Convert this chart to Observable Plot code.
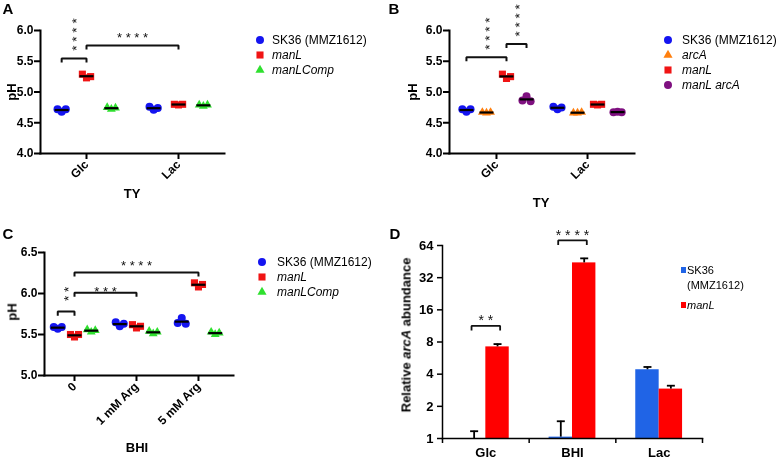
<!DOCTYPE html>
<html><head><meta charset="utf-8">
<script src="https://cdn.jsdelivr.net/npm/d3@7"></script>
<script src="https://cdn.jsdelivr.net/npm/@observablehq/plot@0.6"></script>
<style>
body{margin:0;background:#fff;}
#fig{position:relative;width:777px;height:462px;overflow:hidden;background:#fff;font-family:"Liberation Sans",Arial,sans-serif;color:#000;}
.layer{will-change:transform;}
</style></head><body><div id="fig"></div>
<script>
// ---------------- DATA ----------------
// Panel A (TY medium)
const groupsA = ["Glc", "Lac"];
const seriesA = ["SK36 (MMZ1612)", "manL", "manLComp"];
// replicates per group: [left, middle, right]
const a_SK36     = [[4.72, 4.68, 4.72], [4.76, 4.71, 4.74]];
const a_manL     = [[5.29, 5.23, 5.25], [4.80, 4.79, 4.80]];
const a_manLComp = [[4.75, 4.72, 4.74], [4.79, 4.77, 4.79]];
const yTicksA = [4.0, 4.5, 5.0, 5.5, 6.0];

// Panel B (TY medium)
const groupsB = ["Glc", "Lac"];
const seriesB = ["SK36 (MMZ1612)", "arcA", "manL", "manL arcA"];
const b_SK36     = [[4.72, 4.68, 4.72], [4.76, 4.72, 4.75]];
const b_arcA     = [[4.67, 4.66, 4.67], [4.66, 4.66, 4.67]];
const b_manL     = [[5.29, 5.22, 5.25], [4.80, 4.79, 4.80]];
const b_manLarcA = [[4.86, 4.93, 4.85], [4.67, 4.68, 4.67]];
const yTicksB = [4.0, 4.5, 5.0, 5.5, 6.0];

// Panel C (BHI medium)
const groupsC = ["0", "1 mM Arg", "5 mM Arg"];
const seriesC = ["SK36 (MMZ1612)", "manL", "manLComp"];
const c_SK36     = [[5.59, 5.57, 5.59], [5.65, 5.60, 5.63], [5.64, 5.70, 5.63]];
const c_manL     = [[5.50, 5.47, 5.50], [5.62, 5.58, 5.60], [6.13, 6.08, 6.11]];
const c_manLComp = [[5.56, 5.53, 5.55], [5.54, 5.51, 5.53], [5.53, 5.50, 5.52]];
const yTicksC = [5.0, 5.5, 6.0, 6.5];

// Panel D (relative arcA abundance, log2 axis)
const groupsD = ["Glc", "BHI", "Lac"];
const seriesD = ["SK36 (MMZ1612)", "manL"];
const d_SK36 = [1.0, 1.03, 4.4];
const d_SK36_errTop = [1.17, 1.45, 4.67];
const d_manL = [7.2, 44, 2.9];
const d_manL_errTop = [7.65, 48.5, 3.12];
const yTicksD = [1, 2, 4, 8, 16, 32, 64];

// Significance annotations (group/series indices, bracket height, label height)
const sigA = [
  {g1: 0, s1: 0, g2: 0, s2: 1, y: 5.545, ly: 5.935, label: "****", vertical: true},
  {g1: 0, s1: 1, g2: 1, s2: 1, y: 5.756, ly: 5.925, label: "****", vertical: false}
];
const sigB = [
  {g1: 0, s1: 0, g2: 0, s2: 2, y: 5.566, ly: 5.95, label: "****", vertical: true},
  {g1: 0, s1: 2, g2: 0, s2: 3, y: 5.78, ly: 6.165, label: "****", vertical: true}
];
const sigC = [
  {g1: 0, s1: 0, g2: 0, s2: 1, y: 5.78, ly: 5.995, label: "**", vertical: true},
  {g1: 0, s1: 1, g2: 1, s2: 1, y: 6.01, ly: 6.06, label: "***", vertical: false},
  {g1: 0, s1: 1, g2: 2, s2: 1, y: 6.256, ly: 6.37, label: "****", vertical: false}
];
const sigD = [
  {g: 0, y: 11.3, ly: 13.5, label: "**"},
  {g: 1, y: 71.4, ly: 84, label: "****"}
];

// ---------------- STYLE ----------------
const FONT = '"Liberation Sans", Arial, sans-serif';
const BLUE = "#1414f0", RED = "#f01414", GREEN = "#2fe02f", ORANGE = "#ff7f0e", PURPLE = "#7f1080";
const BLUE_D = "#2064e6", RED_D = "#ff0000";
const STAR = "#111";
const hline = {draw(ctx) { ctx.moveTo(-7, 0); ctx.lineTo(7, 0); }};
const cap = {draw(ctx) { ctx.moveTo(-4, 0); ctx.lineTo(4, 0); }};

const fig = document.getElementById("fig");
function put(node, left, top) {
  const d = document.createElement("div");
  d.className = "layer";
  d.style.cssText = `position:absolute;left:${left}px;top:${top}px;`;
  d.appendChild(node);
  fig.appendChild(d);
}
function label(html, x, y, size, o = {}) {
  const d = document.createElement("div");
  d.innerHTML = html;
  const tx = o.left ? "0" : "-50%";
  const rot = o.rotate ? ` rotate(${o.rotate}deg)` : "";
  d.style.cssText = `position:absolute;left:${x}px;top:${y}px;font-size:${size}px;line-height:1;` +
    `font-weight:${o.normal ? "normal" : "bold"};white-space:nowrap;transform:translate(${tx},-50%)${rot};`;
  fig.appendChild(d);
}
function marker(cx, cy, color, type, size) {
  const svg = d3.create("svg").attr("width", 14).attr("height", 14)
    .style("position", "absolute").style("left", (cx - 7) + "px").style("top", (cy - 7) + "px")
    .style("overflow", "visible");
  svg.append("path").attr("transform", "translate(7,7)").attr("d", d3.symbol(type, size)()).attr("fill", color);
  fig.appendChild(svg.node());
}
const symMap = {circle: d3.symbolCircle, square: d3.symbolSquare, triangle: d3.symbolTriangle};
const rOf = s => s === "triangle" ? 3.3 : 4;

function dotPanel(c) {
  const pts = [], means = [];
  c.reps.forEach((rep, si) => rep.forEach((vals, gi) => {
    vals.forEach((v, ri) => pts.push({si, x: gi + c.off[si] + c.jit[ri], y: v}));
    means.push({x: gi + c.off[si], y: d3.mean(vals)});
  }));
  const pos = (g, s) => g + c.off[s];
  const brk = [], stars = [];
  c.sig.forEach((b, i) => {
    const x1 = pos(b.g1, b.s1), x2 = pos(b.g2, b.s2);
    [[x1, b.y - c.drop], [x1, b.y], [x2, b.y], [x2, b.y - c.drop]].forEach(([x, y]) => brk.push({i, x, y}));
    stars.push({x: (x1 + x2) / 2, y: b.ly, vertical: b.vertical, text: b.label.split("").join(" ")});
  });
  return Plot.plot({
    width: c.width, height: c.height,
    marginLeft: c.ml, marginRight: c.mr, marginTop: c.mt, marginBottom: c.mb,
    x: {domain: c.xDomain},
    y: {domain: c.yDomain},
    style: {fontFamily: FONT, fontSize: "12px", fontWeight: "bold", background: "transparent", overflow: "visible", color: "#000"},
    marks: [
      Plot.frame({anchor: "left", strokeWidth: 2}),
      Plot.frame({anchor: "bottom", strokeWidth: 2}),
      Plot.axisY({ticks: c.yTicks, tickFormat: d3.format(".1f"), tickSize: 6, tickPadding: 1, strokeWidth: 2, label: null}),
      Plot.axisX({ticks: d3.range(c.groups.length), tickFormat: i => c.groups[i], tickRotate: -45, tickSize: 6, tickPadding: 3, strokeWidth: 2, label: null}),
      ...c.series.map((s, si) => Plot.dot(pts.filter(p => p.si === si), {x: "x", y: "y", r: rOf(c.symbols[si]), fill: c.colors[si], symbol: c.symbols[si]})),
      Plot.dot(means, {x: "x", y: "y", symbol: hline, stroke: "#000", strokeWidth: 2.2, fill: "none"}),
      Plot.line(brk, {x: "x", y: "y", z: "i", stroke: "#111", strokeWidth: 2, strokeLinejoin: "miter", strokeLinecap: "butt"}),
      // vertical star columns: one rotated text each
      Plot.text(stars.filter(d => d.vertical), {x: "x", y: "y", text: "text", rotate: -90, fontSize: 13.5, fontWeight: "normal", fill: STAR, dx: 3}),
      Plot.text(stars.filter(d => !d.vertical), {x: "x", y: "y", text: "text", fontSize: 13, fontWeight: "normal", fill: STAR, dy: 3})
    ]
  });
}

// ---------------- PANEL A ----------------
put(dotPanel({
  groups: groupsA, series: seriesA, reps: [a_SK36, a_manL, a_manLComp],
  colors: [BLUE, RED, GREEN], symbols: ["circle", "square", "triangle"],
  off: [-0.27, 0, 0.27], jit: [-0.045, 0, 0.045], drop: 0.065,
  width: 390, height: 225, ml: 40, mr: 166, mt: 30, mb: 72,
  xDomain: [-0.5, 1.5], yDomain: [4, 6], yTicks: yTicksA, sig: sigA
}), 0, 0);

// ---------------- PANEL B ----------------
put(dotPanel({
  groups: groupsB, series: seriesB, reps: [b_SK36, b_arcA, b_manL, b_manLarcA],
  colors: [BLUE, ORANGE, RED, PURPLE], symbols: ["circle", "triangle", "square", "circle"],
  off: [-0.33, -0.11, 0.11, 0.33], jit: [-0.045, 0, 0.045], drop: 0.065,
  width: 387, height: 225, ml: 59, mr: 143, mt: 30, mb: 72,
  xDomain: [-0.516, 1.516], yDomain: [4, 6], yTicks: yTicksB, sig: sigB
}), 390, 0);

// ---------------- PANEL C ----------------
put(dotPanel({
  groups: groupsC, series: seriesC, reps: [c_SK36, c_manL, c_manLComp],
  colors: [BLUE, RED, GREEN], symbols: ["circle", "square", "triangle"],
  off: [-0.27, 0, 0.27], jit: [-0.065, 0, 0.065], drop: 0.05,
  width: 390, height: 237, ml: 44, mr: 157, mt: 27, mb: 87,
  xDomain: [-0.484, 2.565], yDomain: [5, 6.5], yTicks: yTicksC, sig: sigC
}), 0, 225);

// ---------------- PANEL D ----------------
(function () {
  const bars = [];
  groupsD.forEach((g, gi) => {
    bars.push({x1: gi + 0.5 - 0.27, x2: gi + 0.5, xc: gi + 0.5 - 0.135, v: d_SK36[gi], top: d_SK36_errTop[gi], fill: BLUE_D});
    bars.push({x1: gi + 0.5, x2: gi + 0.5 + 0.27, xc: gi + 0.5 + 0.135, v: d_manL[gi], top: d_manL_errTop[gi], fill: RED_D});
  });
  const f = Math.pow(2, -4.5 / 32);
  const brk = [], stars = [];
  sigD.forEach((b, i) => {
    const x1 = b.g + 0.5 - 0.165, x2 = b.g + 0.5 + 0.165;
    [[x1, b.y * f], [x1, b.y], [x2, b.y], [x2, b.y * f]].forEach(([x, y]) => brk.push({i, x, y}));
    stars.push({x: (x1 + x2) / 2, y: b.ly, text: b.label.split("").join(" ")});
  });
  put(Plot.plot({
    width: 387, height: 237, marginLeft: 52, marginRight: 75, marginTop: 20, marginBottom: 24,
    x: {domain: [0, 3]},
    y: {type: "log", base: 2, domain: [1, 64]},
    style: {fontFamily: FONT, fontSize: "13px", fontWeight: "bold", background: "transparent", overflow: "visible", color: "#000"},
    marks: [
      Plot.rectY(bars, {x1: "x1", x2: "x2", y1: 1, y2: "v", fill: "fill"}),
      Plot.ruleX(bars, {x: "xc", y1: "v", y2: "top", stroke: "#000", strokeWidth: 1.8}),
      Plot.dot(bars, {x: "xc", y: "top", symbol: cap, stroke: "#000", strokeWidth: 1.8, fill: "none"}),
      Plot.frame({anchor: "left", strokeWidth: 1.5}),
      Plot.frame({anchor: "bottom", strokeWidth: 1.5}),
      Plot.axisY({ticks: yTicksD, tickFormat: d => String(d), tickSize: 5, tickPadding: 4, strokeWidth: 1.5, label: null}),
      Plot.axisX({ticks: [0, 1, 2, 3], tickFormat: () => "", tickSize: 5, strokeWidth: 1.5, label: null}),
      Plot.axisX({ticks: [0.5, 1.5, 2.5], tickFormat: d => groupsD[Math.floor(d)], tickSize: 0, tickPadding: 9, label: null}),
      Plot.line(brk, {x: "x", y: "y", z: "i", stroke: "#111", strokeWidth: 1.8, strokeLinejoin: "miter", strokeLinecap: "butt"}),
      Plot.text(stars, {x: "x", y: "y", text: "text", fontSize: 14, fontWeight: "normal", fill: STAR, dy: 3})
    ]
  }), 390, 225);
})();

// ---------------- LABELS & LEGENDS ----------------
label("A", 8, 8, 15);
label("B", 394, 8, 15);
label("C", 8, 233, 15);
label("D", 395, 233, 15);

label("pH", 11, 92, 13, {rotate: -90});
label("TY", 132, 193, 13);
label("pH", 412, 92, 13, {rotate: -90});
label("TY", 541, 202, 13);
label("pH", 12, 312, 13, {rotate: -90});
label("BHI", 137, 447, 13);
label("Relative <i>arcA</i> abundance", 406, 335, 13, {rotate: -90});

function legend(x, tx, ys, series, colors, symbols) {
  series.forEach((s, i) => {
    marker(x, ys[i], colors[i], symMap[symbols[i]], symbols[i] === "triangle" ? 36 : 50);
    const html = s.startsWith("SK36") ? s : `<i>${s}</i>`;
    label(html, tx, ys[i], 12, {left: true, normal: true});
  });
}
legend(260, 272, [40, 55, 70], seriesA, [BLUE, RED, GREEN], ["circle", "square", "triangle"]);
legend(668, 682, [40, 55, 70, 85], seriesB, [BLUE, ORANGE, RED, PURPLE], ["circle", "triangle", "square", "circle"]);
legend(262, 277, [262, 277, 292], seriesC, [BLUE, RED, GREEN], ["circle", "square", "triangle"]);

// Panel D legend (square swatches)
(function () {
  const sw = (y, color) => {
    const d = document.createElement("div");
    d.style.cssText = `position:absolute;left:681px;top:${y - 3}px;width:5px;height:6px;background:${color};`;
    fig.appendChild(d);
  };
  sw(270, BLUE_D);
  label("SK36", 687, 270, 11, {left: true, normal: true});
  label("(MMZ1612)", 687, 285, 11, {left: true, normal: true});
  sw(305, RED_D);
  label("<i>manL</i>", 687, 305, 11, {left: true, normal: true});
})();
</script>
</body></html>
